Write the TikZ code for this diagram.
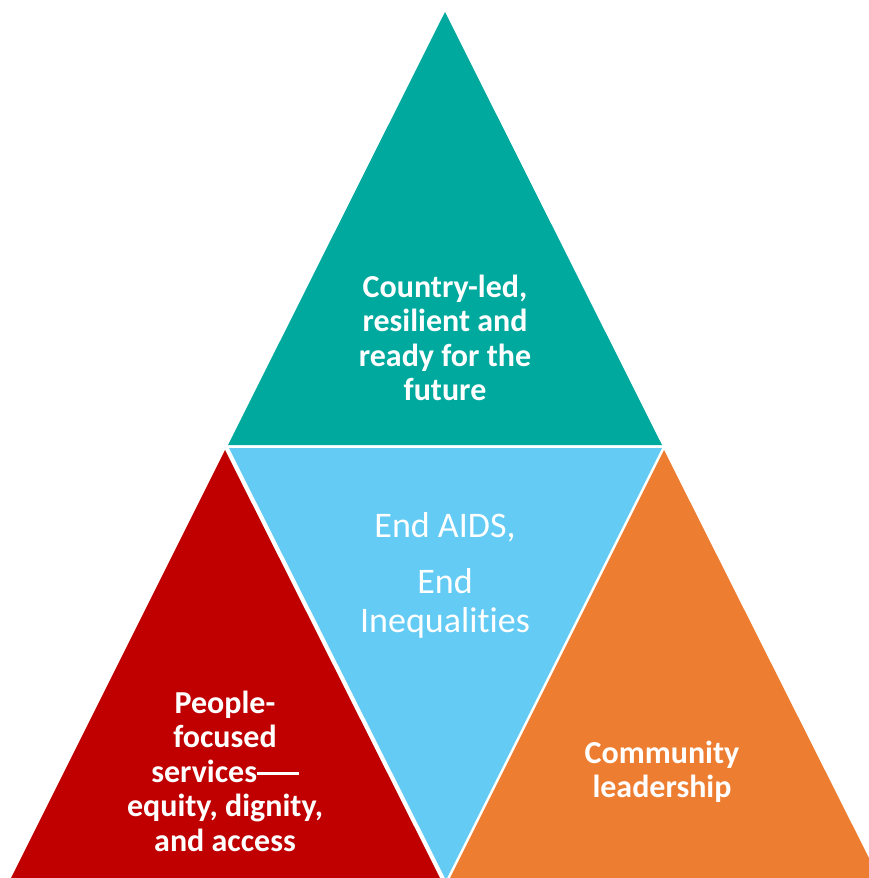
\documentclass[tikz,border=0pt]{standalone}
\usepackage{fontspec}
\setmainfont{Carlito}[Ligatures=NoCommon]
\definecolor{tealc}{RGB}{0,169,157}
\definecolor{bluec}{RGB}{99,203,244}
\definecolor{redc}{RGB}{192,0,0}
\definecolor{orangec}{RGB}{237,125,49}
\tikzset{
  lbl/.style={text=white, font=\fontsize{32}{34.5}\selectfont\bfseries, align=flush center, text width=300pt, inner sep=0pt, anchor=base},
  midlbl/.style={text=white, font=\fontsize{36}{39}\selectfont, align=flush center, text width=300pt, inner sep=0pt, anchor=base}
}
\begin{document}
\begin{tikzpicture}[x=1pt,y=1pt]
\useasboundingbox (0,0) rectangle (869,-878);
\clip (0,0) rectangle (869,-878);
% triangles
\fill[tealc] (445,-12) -- (228,-445) -- (662,-445) -- cycle;
\fill[bluec] (229,-448) -- (662,-448) -- (446,-880) -- cycle;
\fill[redc] (225,-450) -- (10,-880) -- (441,-880) -- cycle;
\fill[orangec] (664,-450) -- (449,-880) -- (880,-880) -- cycle;
% labels
\node[lbl] (top) at (445,-297) {Country-led,\\resilient and\\ready for the\\future};
\node[midlbl] (mid) at (445,-537) {End AIDS,\\[17pt]End\\Inequalities};
\node[lbl] (left) at (225,-713) {People-\\focused\\services\rule[0.23em]{1.3em}{0.07em}\\equity, dignity,\\and access};
\node[lbl] (right) at (662,-763) {Community\\leadership};
\end{tikzpicture}
\end{document}
